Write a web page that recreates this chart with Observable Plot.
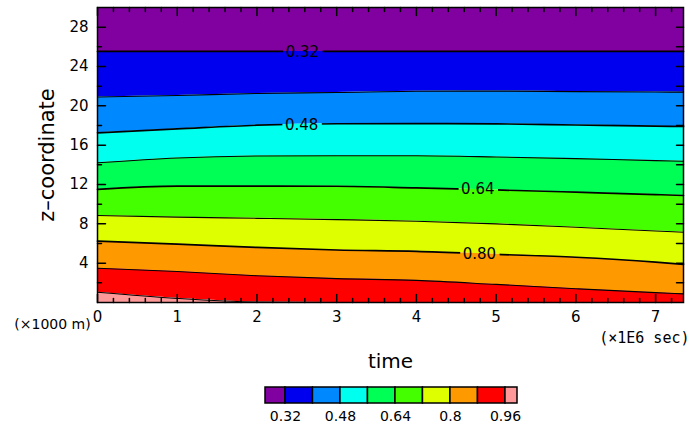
<!DOCTYPE html>
<html><head><meta charset="utf-8">
<script src="https://cdn.jsdelivr.net/npm/d3@7"></script>
<script src="https://cdn.jsdelivr.net/npm/@observablehq/plot@0.6"></script>
<style>
body{margin:0;background:#fff;}
#chart svg,#legend svg{display:block;}
</style></head><body><div id="chart"></div><div id="legend"></div>
<script>
// time (x1E6 sec) sample points and contour heights (x1000 m)
const times = [0, 1, 2, 3, 4, 5, 6, 7, 7.35];
const z032 = [25.53, 25.53, 25.53, 25.53, 25.53, 25.53, 25.53, 25.53, 25.53];
const z040 = [20.89, 21.05, 21.26, 21.35, 21.48, 21.50, 21.44, 21.40, 21.39];
const z048 = [17.26, 17.65, 18.03, 18.18, 18.20, 18.17, 18.05, 17.93, 17.90];
const z056 = [14.21, 14.70, 14.90, 14.93, 14.92, 14.80, 14.63, 14.43, 14.37];
const z064 = [11.50, 11.83, 11.83, 11.82, 11.65, 11.45, 11.22, 10.98, 10.88];
const z072 = [8.85, 8.68, 8.56, 8.43, 8.27, 8.00, 7.65, 7.27, 7.15];
const z080 = [6.24, 5.94, 5.60, 5.34, 5.20, 4.90, 4.60, 4.10, 3.87];
const z088 = [3.49, 3.15, 2.72, 2.43, 2.25, 1.84, 1.40, 1.00, 0.88];
const z096 = [1.05, 0.42, 0.05, 0, 0, 0, 0, 0, 0];
const levels = [0.32, 0.40, 0.48, 0.56, 0.64, 0.72, 0.80, 0.88, 0.96];
const bandColors = ["#8000a0", "#0000ee", "#0088ff", "#00ffee", "#00ff55", "#44ff00", "#ddff00", "#ff9900", "#ff0000", "#ff9999"];
const labelText = ["0.32", "0.48", "0.64", "0.80"];
const labelTimes = [2.57, 2.56, 4.77, 4.79];
const labelZ = [25.47, 18.0, 11.5, 4.95];
const xTicks = [0, 1, 2, 3, 4, 5, 6, 7];
const yTicks = [4, 8, 12, 16, 20, 24, 28];
const yMinor = [2, 6, 10, 14, 18, 22, 26];
const legendTicks = [0.32, 0.48, 0.64, 0.80, 0.96];
const legendTickLabels = ["0.32", "0.48", "0.64", "0.8", "0.96"];

const xDomain = [0, 7.35], yDomain = [0, 30];
const lines = [z032, z040, z048, z056, z064, z072, z080, z088, z096];
const labelled = new Set(labelText.map(Number));
const xMinor = d3.range(0, 37).filter(i => i % 5).map(i => i / 5);

const bandMarks = bandColors.map((c, i) => {
  const lo = i < lines.length ? lines[i] : times.map(() => yDomain[0]);
  const hi = i === 0 ? times.map(() => yDomain[1]) : lines[i - 1];
  const rows = times.map((t, j) => ({t, lo: lo[j], hi: hi[j]}));
  return Plot.areaY(rows, {x: "t", y1: "lo", y2: "hi", fill: c, curve: "monotone-x"});
});
const lineMarks = lines.map((zs, k) => Plot.line(times.map((t, j) => ({t, h: zs[j]})), {
  x: "t", y: "h", stroke: "black", strokeWidth: labelled.has(levels[k]) ? 1.7 : 1.1,
  curve: "monotone-x", className: "cline"
}));

const tickShape = {draw(ctx, l) { ctx.moveTo(0, 0); ctx.lineTo(0, -l); }};
const tk = (data, opts) => Plot.vector(data, {anchor: "start", shape: tickShape, stroke: "black", strokeWidth: 1.5, ...opts});

const H = 379;
const chart = Plot.plot({
  width: 690, height: H,
  marginLeft: 97, marginRight: 7, marginTop: 7, marginBottom: H - 302,
  style: {fontFamily: "DejaVu Sans", fontSize: "15px", color: "black", background: "white"},
  x: {domain: xDomain},
  y: {domain: yDomain},
  marks: [
    ...bandMarks,
    ...lineMarks,
    Plot.text(d3.range(labelText.length), {x: i => labelTimes[i], y: i => labelZ[i], text: i => labelText[i], fontSize: 15, fill: "black", className: "clabel"}),
    Plot.frame({stroke: "black", strokeWidth: 1.5}),
    tk(xTicks, {x: d => d, frameAnchor: "bottom", rotate: 0, length: 8}),
    tk(xMinor, {x: d => d, frameAnchor: "bottom", rotate: 0, length: 4}),
    tk(xTicks, {x: d => d, frameAnchor: "top", rotate: 180, length: 8}),
    tk(xMinor, {x: d => d, frameAnchor: "top", rotate: 180, length: 4}),
    tk(yTicks, {y: d => d, frameAnchor: "left", rotate: 90, length: 8}),
    tk(yMinor, {y: d => d, frameAnchor: "left", rotate: 90, length: 4}),
    tk(yTicks, {y: d => d, frameAnchor: "right", rotate: -90, length: 7}),
    tk(yMinor, {y: d => d, frameAnchor: "right", rotate: -90, length: 7}),
    Plot.axisX({ticks: xTicks, tickSize: 0, tickPadding: 9, label: null, fontSize: 15}),
    Plot.axisY({ticks: yTicks, tickSize: 0, tickPadding: 9, label: null, fontSize: 15}),
    Plot.text(["time"], {frameAnchor: "bottom", dy: 65, textAnchor: "middle", fontSize: 20}),
    Plot.text(["z\u2013coordinate"], {frameAnchor: "left", dx: -50, rotate: -90, textAnchor: "middle", fontSize: 21}),
    Plot.text(["(\u00d71000 m)"], {frameAnchor: "bottom-left", dx: -45, dy: 26, textAnchor: "middle", fontSize: 14}),
    Plot.text(["(\u00d71E6 sec)"], {frameAnchor: "bottom-right", dx: 6, dy: 40, textAnchor: "end", fontSize: 15, fontFamily: "DejaVu Sans Mono"})
  ]
});
document.getElementById("chart").append(chart);

// break contour lines under their labels (even-odd clip path with holes at the label boxes)
(function () {
  const ns = "http://www.w3.org/2000/svg";
  const sr = chart.getBoundingClientRect();
  let d = `M0,0H${sr.width}V${sr.height}H0Z`;
  chart.querySelectorAll(".clabel text").forEach(t => {
    const r = t.getBoundingClientRect();
    const x = r.left - sr.left - 3, y = r.top - sr.top + 2, w = r.width + 6, h = r.height - 4;
    d += `M${x},${y}h${w}v${h}h${-w}Z`;
  });
  const defs = document.createElementNS(ns, "defs");
  const clip = document.createElementNS(ns, "clipPath");
  clip.setAttribute("id", "gapclip");
  const p = document.createElementNS(ns, "path");
  p.setAttribute("d", d);
  p.setAttribute("clip-rule", "evenodd");
  clip.append(p);
  defs.append(clip);
  chart.append(defs);
  chart.querySelectorAll("g.cline").forEach(g => g.setAttribute("clip-path", "url(#gapclip)"));
})();

const legMin = 0.262, legMax = 0.995;
const legendBins = bandColors.map((c, i) => ({
  lo: i === 0 ? legMin : levels[i - 1],
  hi: i === levels.length ? legMax : levels[i],
  c
}));
const LH = 425 - H;
const legend = Plot.plot({
  width: 690, height: LH,
  marginLeft: 265, marginRight: 173, marginTop: 387 - H, marginBottom: LH - (403 - H),
  style: {fontFamily: "DejaVu Sans", fontSize: "14px", color: "black", background: "white"},
  x: {domain: [legMin, legMax]},
  color: {type: "identity"},
  marks: [
    Plot.rect(legendBins, {x1: "lo", x2: "hi", fill: "c", stroke: "black", strokeWidth: 1.5}),
    Plot.axisX({ticks: legendTicks, tickFormat: d => legendTickLabels[legendTicks.indexOf(d)], tickSize: 0, tickPadding: 8, label: null, fontSize: 14})
  ]
});
document.getElementById("legend").append(legend);
</script></body></html>
